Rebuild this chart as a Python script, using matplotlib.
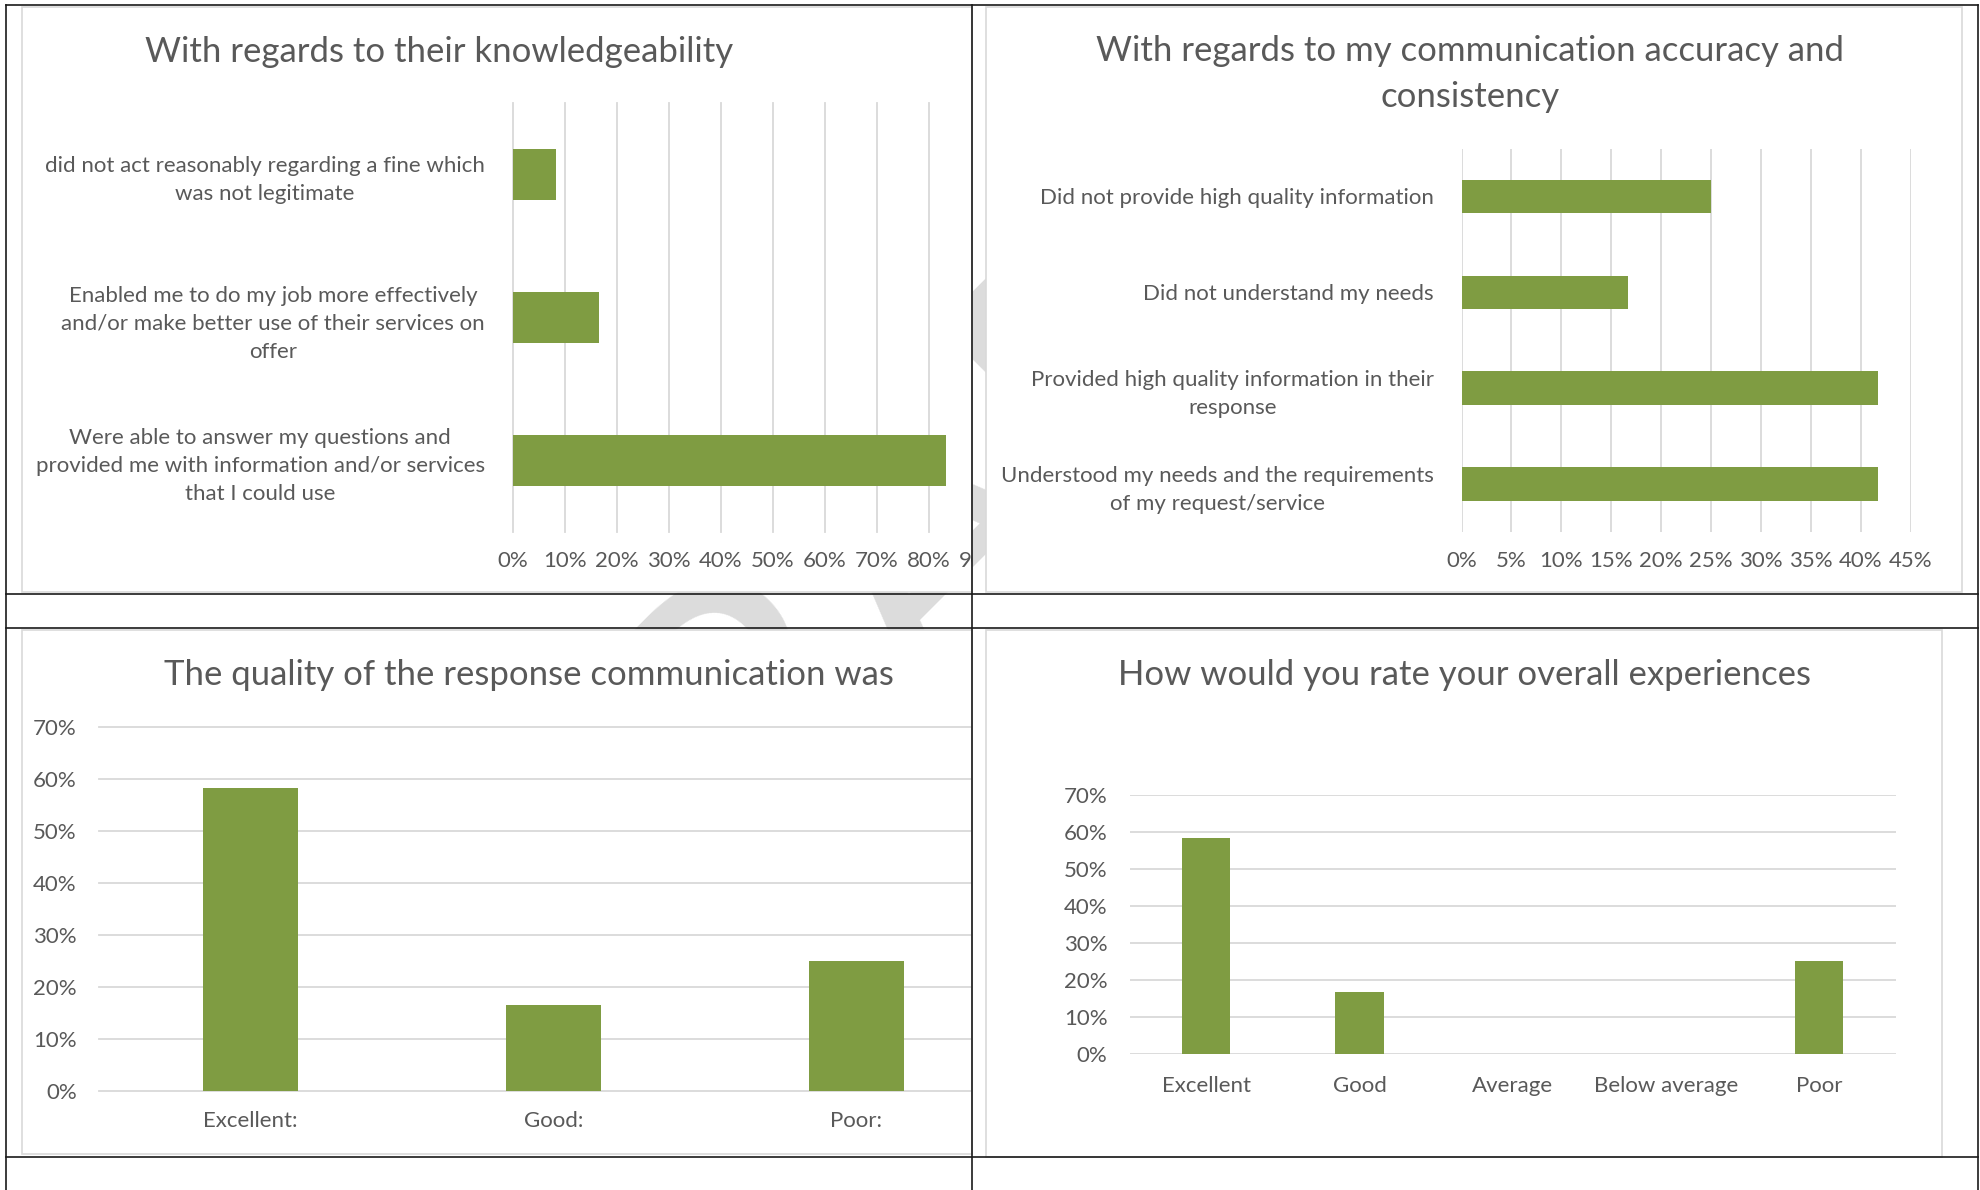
import numpy as np
import matplotlib.pyplot as plt
from matplotlib.patches import Rectangle
from matplotlib.lines import Line2D
from matplotlib.ticker import PercentFormatter
from matplotlib.transforms import Bbox, TransformedBbox

plt.rcParams['font.family'] = ['Lato', 'DejaVu Sans']

### Data ###
knowledge_labels = ["did not act reasonably regarding a fine which\nwas not legitimate",
                    "Enabled me to do my job more effectively\nand/or make better use of their services on\noffer",
                    "Were able to answer my questions and\nprovided me with information and/or services\nthat I could use"]
knowledge_values = [0.0833, 0.1667, 0.8333]

accuracy_labels = ["Did not provide high quality information",
                   "Did not understand my needs",
                   "Provided high quality information in their\nresponse",
                   "Understood my needs and the requirements\nof my request/service"]
accuracy_values = [0.25, 0.1667, 0.4167, 0.4167]

quality_labels = ["Excellent:", "Good:", "Poor:"]
quality_values = [0.5833, 0.1667, 0.25]

overall_labels = ["Excellent", "Good", "Average", "Below average", "Poor"]
overall_values = [0.5833, 0.1667, 0.0, 0.0, 0.25]

titles = ["With regards to their knowledgeability",
          "With regards to my communication accuracy and\nconsistency",
          "The quality of the response communication was",
          "How would you rate your overall experiences"]

### Style ###
W, H = 1980, 1190
TEXT = '#595959'
GRID = '#d9d9d9'
GREEN = '#7f9c42'
TICK_FS = 16
TITLE_FS = 25

fig = plt.figure(figsize=(W/100, H/100), dpi=100)
fig.patch.set_facecolor('white')

def fx(x):
    return x/W

def fy(y):
    return 1 - y/H

def rect(x0, y0, x1, y1):
    return [x0/W, 1 - y1/H, (x1 - x0)/W, (y1 - y0)/H]

def clipbox(x0, y0, x1, y1):
    return TransformedBbox(Bbox.from_extents(fx(x0), fy(y1), fx(x1), fy(y0)), fig.transFigure)

# watermark behind the chart panels (only peeks through the gaps)
wm = fig.text(fx(900), fy(560), 'DRAFT', rotation=45, fontsize=270, color='#dcdcdc',
              ha='center', va='center', zorder=0.5)
wm.set_clip_box(clipbox(540, 150, 1240, 840))
wm.set_clip_on(True)

# chart panels (white boxes with light border)
panels = [(22, 7, 972, 592), (986, 7, 1962, 592), (22, 630, 972, 1154), (986, 630, 1942, 1157)]
for x0, y0, x1, y1 in panels:
    fig.add_artist(Rectangle((fx(x0), fy(y1)), fx(x1) - fx(x0), fy(y0) - fy(y1),
                             transform=fig.transFigure, facecolor='white',
                             edgecolor=GRID, lw=1.2, zorder=1))

def style(ax, grid_axis):
    ax.set_facecolor('none')
    for s in ax.spines.values():
        s.set_visible(False)
    ax.grid(axis=grid_axis, color=GRID, lw=1.3)
    ax.set_axisbelow(True)
    ax.tick_params(length=0, labelsize=TICK_FS, colors=TEXT)

# --- Top left: knowledgeability ---
ax1 = fig.add_axes(rect(512.6, 103, 980.6, 532), zorder=2)
y = np.arange(len(knowledge_values))
ax1.barh(y, knowledge_values, height=0.355, color=GREEN)
ax1.set_ylim(len(y) - 0.5, -0.5)
ax1.set_xlim(0, 0.9)
ax1.set_xticks(np.arange(0, 0.91, 0.1))
ax1.xaxis.set_major_formatter(PercentFormatter(1, decimals=0))
ax1.set_yticks(y, knowledge_labels)
style(ax1, 'x')
ax1.tick_params(axis='x', pad=14)
ax1.tick_params(axis='y', pad=20)
for lbl in ax1.get_yticklabels():
    lbl.set_multialignment('center')
    lbl.set_linespacing(1.5)
bb1 = clipbox(*panels[0])
for t in ax1.xaxis.get_major_ticks():
    t.gridline.set_clip_box(bb1)
    t.label1.set_clip_box(bb1)
    t.label1.set_clip_on(True)

# --- Top right: communication accuracy ---
ax2 = fig.add_axes(rect(1461.5, 148.5, 1911, 532), zorder=2)
y = np.arange(len(accuracy_values))
ax2.barh(y, accuracy_values, height=0.35, color=GREEN)
ax2.set_ylim(len(y) - 0.5, -0.5)
ax2.set_xlim(0, 0.45)
ax2.set_xticks(np.arange(0, 0.451, 0.05))
ax2.xaxis.set_major_formatter(PercentFormatter(1, decimals=0))
ax2.set_yticks(y, accuracy_labels)
style(ax2, 'x')
ax2.tick_params(axis='x', pad=14)
ax2.tick_params(axis='y', pad=20)
for lbl in ax2.get_yticklabels():
    lbl.set_multialignment('center')
    lbl.set_linespacing(1.5)

# --- Bottom left: quality of response ---
ax3 = fig.add_axes(rect(99, 727, 1008, 1091.3), zorder=2)
x = np.arange(len(quality_values))
ax3.bar(x, quality_values, width=0.313, color=GREEN)
ax3.set_xlim(-0.5, len(x) - 0.5)
ax3.set_ylim(0, 0.7)
ax3.set_yticks(np.arange(0, 0.71, 0.1))
ax3.yaxis.set_major_formatter(PercentFormatter(1, decimals=0))
ax3.set_xticks(x, quality_labels)
style(ax3, 'y')
ax3.tick_params(axis='x', pad=14)
ax3.tick_params(axis='y', pad=16)
bb3 = clipbox(*panels[2])
for t in ax3.yaxis.get_major_ticks():
    t.gridline.set_clip_box(bb3)

# --- Bottom right: overall experience ---
ax4 = fig.add_axes(rect(1129.7, 794.7, 1895.6, 1053.8), zorder=2)
x = np.arange(len(overall_values))
ax4.bar(x, overall_values, width=0.315, color=GREEN)
ax4.set_xlim(-0.5, len(x) - 0.5)
ax4.set_ylim(0, 0.7)
ax4.set_yticks(np.arange(0, 0.71, 0.1))
ax4.yaxis.set_major_formatter(PercentFormatter(1, decimals=0))
ax4.set_xticks(x, overall_labels)
style(ax4, 'y')
ax4.tick_params(axis='x', pad=16)
ax4.tick_params(axis='y', pad=16)

# titles
title_pos = [(439, 52), (1470, 74), (529, 675), (1464, 675)]
for (tx, ty), title in zip(title_pos, titles):
    fig.text(fx(tx), fy(ty), title, ha='center', va='center', fontsize=TITLE_FS,
             color=TEXT, linespacing=1.55, zorder=3)

# table grid lines
LINE = '#1a1a1a'
for yy in [5, 594, 628, 1157]:
    fig.add_artist(Line2D([fx(6), fx(1978)], [fy(yy), fy(yy)], transform=fig.transFigure,
                          color=LINE, lw=1.2, zorder=10))
for xx in [6, 972, 1978]:
    fig.add_artist(Line2D([fx(xx), fx(xx)], [fy(5), fy(1190)], transform=fig.transFigure,
                          color=LINE, lw=1.2, zorder=10))

fig.savefig('out.png', dpi=100, facecolor='white')
